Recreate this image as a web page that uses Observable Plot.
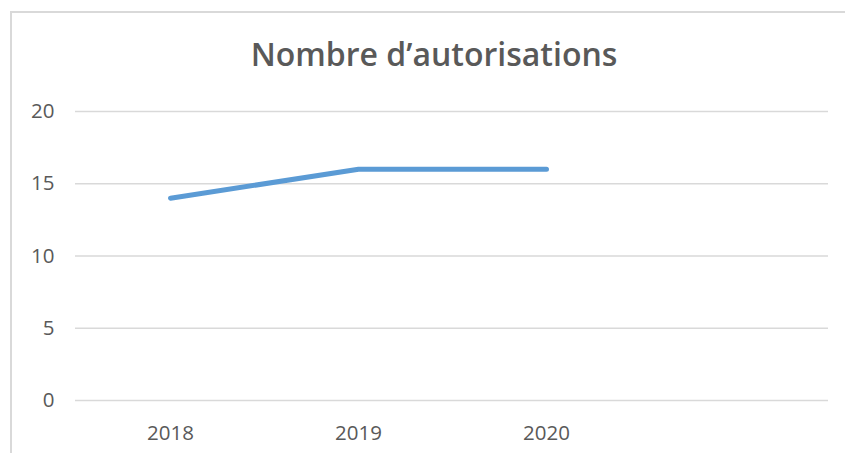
<!DOCTYPE html>
<html>
<head>
<meta charset="utf-8">
<script src="https://cdn.jsdelivr.net/npm/d3@7"></script>
<script src="https://cdn.jsdelivr.net/npm/@observablehq/plot@0.6"></script>
<style>
  html, body { margin: 0; padding: 0; background: #fff; }
  #wrap { position: relative; width: 845px; height: 453px; overflow: hidden; background: #fff; }
  #frame { position: absolute; left: 10px; top: 11px; width: 900px; height: 500px;
           border-top: 2px solid #d9d9d9; border-left: 2px solid #d9d9d9; }
  #title { position: absolute; left: 0; width: 868px; top: 34px; text-align: center;
           font-family: "Open Sans", sans-serif; font-weight: 600; font-size: 32px;
           color: #595959; line-height: 40px; }
  #chart { position: absolute; left: 0; top: 80px; }
</style>
</head>
<body>
<div id="wrap">
  <div id="frame"></div>
  <div id="title">Nombre d’autorisations</div>
  <div id="chart"></div>
</div>
<script>
const categories = ["2018", "2019", "2020", ""];
const years = ["2018", "2019", "2020"];
const values = [14, 16, 16];
const yTicks = [0, 5, 10, 15, 20];

const data = years.map((year, i) => ({year, value: values[i]}));

const chart = Plot.plot({
  width: 845,
  height: 373,
  marginLeft: 75,
  marginRight: 17,
  marginTop: 31,
  marginBottom: 53,
  style: {fontFamily: "'Open Sans', sans-serif", fontSize: "20.5px", color: "#595959", background: "transparent"},
  x: {type: "point", domain: categories, padding: 0.5},
  y: {domain: [0, 20]},
  marks: [
    Plot.ruleY(yTicks, {stroke: "#d9d9d9", strokeWidth: 1.6}),
    Plot.axisY({ticks: yTicks, tickSize: 0, tickPadding: 21, label: null, fill: "#595959"}),
    Plot.axisX({tickSize: 0, tickPadding: 25, label: null, fill: "#595959"}),
    Plot.line(data, {x: "year", y: "value", stroke: "#5b9bd5", strokeWidth: 5,
      strokeLinecap: "round", strokeLinejoin: "round"})
  ]
});
document.getElementById("chart").appendChild(chart);
</script>
</body>
</html>
